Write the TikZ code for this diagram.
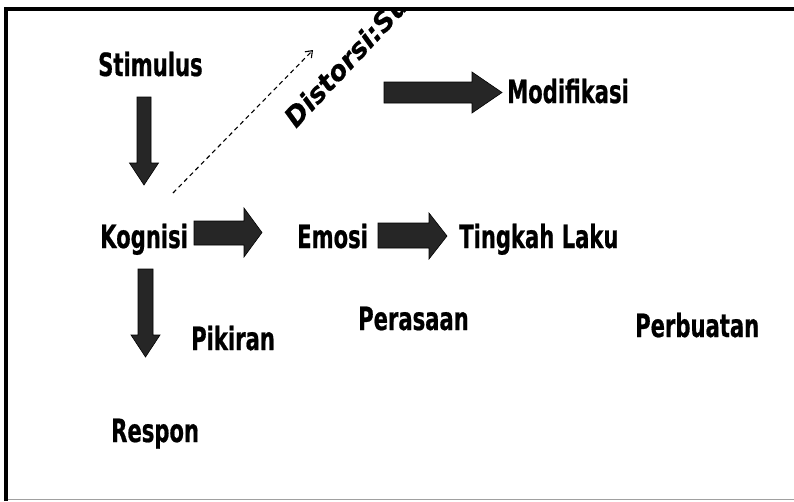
\documentclass[tikz,border=0pt]{standalone}
\usepackage{fontspec}
\setmainfont{DejaVu Sans}
\newfontfamily\lblfont[FakeStretch=0.66,FakeBold=0.6]{DejaVu Sans}
\newfontfamily\slfont[FakeBold=0.4]{DejaVu Sans}
\usetikzlibrary{arrows.meta}
\definecolor{arrowgray}{RGB}{38,38,38}
\definecolor{framegray}{RGB}{160,160,160}
\begin{document}
\begin{tikzpicture}[x=1pt,y=-1pt,
  lbl/.style={font=\lblfont\bfseries\fontsize{32}{38}\selectfont, inner sep=0pt, anchor=base west},
  blk/.style={fill=arrowgray, draw=black, line width=0.6pt, line join=miter},
  dashedarrow/.style={dashed, dash pattern=on 4.5pt off 3.5pt, line width=1.1pt, -{Straight Barb[length=6pt,width=9pt]}}]
\useasboundingbox (0,0) rectangle (794,501);
\fill[white] (0,0) rectangle (794,501);
% rotated, clipped label
\begin{scope}
  \clip (8,11) rectangle (794,499);
  \node[font=\slfont\bfseries\itshape\fontsize{27}{32}\selectfont, inner sep=0pt, anchor=base west, rotate=47] (dist) at (296,129) {Distorsi:Su};
\end{scope}
% frame
\draw[line width=4pt, line join=miter] (6,501) -- (6,9) -- (794,9);
\draw[framegray, line width=1.5pt] (8,499.5) -- (794,499.5);
% labels
\node[lbl] (stim) at (98,76) {Stimulus};
\node[lbl] (kog) at (100,248) {Kognisi};
\node[lbl] (emo) at (297,248) {Emosi};
\node[lbl] (tl) at (459,248) {Tingkah Laku};
\node[lbl] (mod) at (507,103) {Modifikasi};
\node[lbl] (pik) at (191,350) {Pikiran};
\node[lbl] (pers) at (358,330) {Perasaan};
\node[lbl] (perb) at (635,337) {Perbuatan};
\node[lbl] (resp) at (111,442) {Respon};
% block arrows
\draw[blk] (137,97) -- (151,97) -- (151,163) -- (158.5,163) -- (144,185) -- (129.5,163) -- (137,163) -- cycle;
\draw[blk] (138,269) -- (153,269) -- (153,335) -- (160,335) -- (145.5,357) -- (131,335) -- (138,335) -- cycle;
\draw[blk] (194,221) -- (244,221) -- (244,208) -- (262,232.5) -- (244,257) -- (244,245) -- (194,245) -- cycle;
\draw[blk] (378,223) -- (429,223) -- (429,213) -- (447,236) -- (429,259) -- (429,248) -- (378,248) -- cycle;
\draw[blk] (384,82) -- (472,82) -- (472,72) -- (502,92.5) -- (472,113) -- (472,103) -- (384,103) -- cycle;
% dashed arrow
\coordinate (ds) at (173,193);
\coordinate (de) at (313,50);
\draw[dashedarrow] (ds) -- (de);
\end{tikzpicture}
\end{document}
